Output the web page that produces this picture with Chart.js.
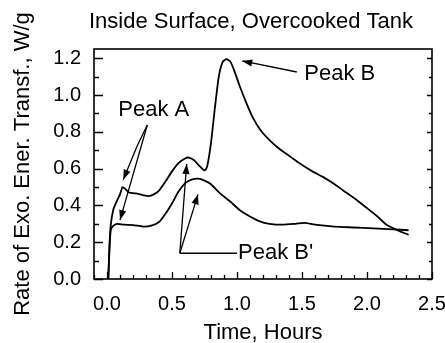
<!DOCTYPE html>
<html>
<head>
<meta charset="utf-8">
<script src="https://cdn.jsdelivr.net/npm/chart.js@4/dist/chart.umd.min.js"></script>
<style>
  html, body { margin: 0; padding: 0; background: #fff; }
  #wrap { width: 445px; height: 343px; }
</style>
</head>
<body>
<div id="wrap"><canvas id="c" width="445" height="343"></canvas></div>
<script>
// Upper trace: Peak A shoulder, Peak B' hump, then the large Peak B exotherm
const upperTime = [0.01, 0.02, 0.03, 0.05, 0.08, 0.10, 0.12, 0.14, 0.17, 0.22, 0.28, 0.32, 0.36, 0.40, 0.45, 0.50, 0.55, 0.60, 0.63, 0.67, 0.71, 0.75, 0.77, 0.80, 0.83, 0.86, 0.89, 0.92, 0.95, 0.98, 1.02, 1.07, 1.12, 1.18, 1.25, 1.33, 1.41, 1.49, 1.58, 1.66, 1.74, 1.82, 1.90, 2.00, 2.08, 2.15, 2.22, 2.32];
const upperRate = [0.00, 0.20, 0.30, 0.38, 0.43, 0.46, 0.50, 0.49, 0.47, 0.465, 0.455, 0.45, 0.46, 0.48, 0.53, 0.585, 0.63, 0.655, 0.66, 0.645, 0.615, 0.59, 0.61, 0.74, 0.93, 1.10, 1.18, 1.195, 1.18, 1.13, 1.05, 0.96, 0.88, 0.81, 0.755, 0.705, 0.665, 0.625, 0.585, 0.555, 0.52, 0.48, 0.44, 0.385, 0.34, 0.295, 0.27, 0.24];

// Lower trace: Peak A plateau and the single Peak B' maximum
const lowerTime = [0.01, 0.02, 0.03, 0.05, 0.08, 0.13, 0.20, 0.28, 0.34, 0.40, 0.45, 0.50, 0.55, 0.60, 0.65, 0.70, 0.75, 0.80, 0.87, 0.95, 1.02, 1.10, 1.17, 1.25, 1.35, 1.45, 1.52, 1.60, 1.75, 1.90, 2.05, 2.20, 2.32];
const lowerRate = [0.00, 0.18, 0.27, 0.29, 0.30, 0.295, 0.293, 0.285, 0.29, 0.31, 0.355, 0.41, 0.475, 0.52, 0.54, 0.545, 0.535, 0.515, 0.465, 0.42, 0.375, 0.34, 0.315, 0.30, 0.295, 0.30, 0.305, 0.295, 0.285, 0.28, 0.275, 0.27, 0.265];

// Axis tick values
const xTickValues = [0.0, 0.5, 1.0, 1.5, 2.0, 2.5];
const yTickValues = [0.0, 0.2, 0.4, 0.6, 0.8, 1.0, 1.2];

// Text strings
const titleText = 'Inside Surface, Overcooked Tank';
const xTitleText = 'Time, Hours';
const yTitleText = 'Rate of Exo. Ener. Transf., W/g';

// Callout labels (anchored in data units) and their leader lines
const calloutLabels = [
  { text: 'Peak A',  at: [0.36, 0.918], align: 'center' },
  { text: 'Peak B',  at: [1.51, 1.114], align: 'left' },
  { text: "Peak B'", at: [1.00, 0.14],  align: 'left' }
];
const calloutArrows = [
  { path: [[0.31, 0.837], [0.23, 0.72], [0.125, 0.54]], head: true },
  { path: [[0.31, 0.837], [0.10, 0.32]], head: true },
  { path: [[1.46, 1.125], [1.04, 1.185]], head: true },
  { path: [[1.00, 0.14], [0.56, 0.14]], head: false },
  { path: [[0.56, 0.14], [0.613, 0.625]], head: true },
  { path: [[0.56, 0.14], [0.70, 0.46]], head: true }
];

const FONT = '"Liberation Sans", Arial, Helvetica, sans-serif';
const TEXT_SIZE = 22;
const TICK_SIZE = 20;
const toPts = (xs, ys) => xs.map((x, i) => ({ x: x, y: ys[i] }));

// Inside tick marks, plot frame, title and callouts
const decorations = {
  id: 'decorations',
  afterDatasetsDraw(chart) {
    const { ctx, chartArea: a, scales: { x, y } } = chart;
    ctx.save();
    ctx.strokeStyle = '#000';
    ctx.fillStyle = '#000';
    ctx.lineWidth = 1.3;

    // minor/major ticks along the bottom
    for (let i = -1; i <= 25; i++) {
      const v = i / 10;
      const px = Math.round(x.getPixelForValue(v)) + 0.5;
      const len = (i % 5 === 0) ? 7 : 4;
      ctx.beginPath();
      ctx.moveTo(px, a.bottom);
      ctx.lineTo(px, a.bottom - len);
      ctx.stroke();
    }
    // minor/major ticks on left and right
    for (let i = 0; i <= 12; i++) {
      const v = i / 10;
      const py = Math.round(y.getPixelForValue(v)) + 0.5;
      const len = (i % 2 === 0) ? 9 : 5;
      ctx.beginPath();
      ctx.moveTo(a.left, py);
      ctx.lineTo(a.left + len, py);
      ctx.moveTo(a.right, py);
      ctx.lineTo(a.right - (i % 2 === 0 ? 5 : 3), py);
      ctx.stroke();
    }

    // frame
    ctx.lineWidth = 1.6;
    ctx.strokeRect(a.left, a.top, a.right - a.left, a.bottom - a.top);

    // callout leaders
    ctx.lineWidth = 1.3;
    calloutArrows.forEach(arw => {
      const pts = arw.path.map(p => [x.getPixelForValue(p[0]), y.getPixelForValue(p[1])]);
      ctx.beginPath();
      ctx.moveTo(pts[0][0], pts[0][1]);
      for (let k = 1; k < pts.length; k++) ctx.lineTo(pts[k][0], pts[k][1]);
      ctx.stroke();
      if (arw.head) {
        const [x1, y1] = pts[pts.length - 2];
        const [x2, y2] = pts[pts.length - 1];
        const ang = Math.atan2(y2 - y1, x2 - x1);
        const L = 10, W = 3.6;
        ctx.beginPath();
        ctx.moveTo(x2, y2);
        ctx.lineTo(x2 - L * Math.cos(ang) + W * Math.sin(ang), y2 - L * Math.sin(ang) - W * Math.cos(ang));
        ctx.lineTo(x2 - L * Math.cos(ang) - W * Math.sin(ang), y2 - L * Math.sin(ang) + W * Math.cos(ang));
        ctx.closePath();
        ctx.fill();
      }
    });

    // callout text
    ctx.font = TEXT_SIZE + 'px ' + FONT;
    ctx.textBaseline = 'middle';
    calloutLabels.forEach(l => {
      ctx.textAlign = l.align;
      const px = x.getPixelForValue(l.at[0]) + (l.align === 'left' ? 1 : 0);
      ctx.fillText(l.text, px, y.getPixelForValue(l.at[1]));
    });

    // chart title
    ctx.textAlign = 'center';
    ctx.fillText(titleText, 251, 22);
    ctx.restore();
  }
};

new Chart(document.getElementById('c'), {
  type: 'line',
  data: {
    datasets: [
      { data: toPts(upperTime, upperRate), borderColor: '#000', borderWidth: 1.8, pointRadius: 0, tension: 0.2, fill: false },
      { data: toPts(lowerTime, lowerRate), borderColor: '#000', borderWidth: 1.8, pointRadius: 0, tension: 0.2, fill: false }
    ]
  },
  options: {
    responsive: false,
    animation: false,
    layout: { padding: { left: 0, right: 13, top: 49, bottom: 0 } },
    plugins: { legend: { display: false }, tooltip: { enabled: false }, title: { display: false } },
    scales: {
      x: {
        type: 'linear', min: -0.1, max: 2.5,
        afterBuildTicks: s => { s.ticks = xTickValues.map(v => ({ value: v })); },
        afterFit: s => { s.height = 64; s.paddingLeft = 0; s.paddingRight = 0; },
        grid: { display: false, drawTicks: false },
        border: { display: false },
        ticks: { color: '#000', padding: 13, maxRotation: 0, autoSkip: false,
                 font: { family: FONT, size: TICK_SIZE }, callback: v => Number(v).toFixed(1) },
        title: { display: true, text: xTitleText, color: '#000', padding: { top: 0, bottom: -3 },
                 font: { family: FONT, size: TEXT_SIZE } }
      },
      y: {
        type: 'linear', min: 0, max: 1.25,
        afterBuildTicks: s => { s.ticks = yTickValues.map(v => ({ value: v })); },
        afterFit: s => { s.width = 94; s.paddingTop = 0; s.paddingBottom = 0; },
        grid: { display: false, drawTicks: false },
        border: { display: false },
        ticks: { color: '#000', padding: 13, font: { family: FONT, size: TICK_SIZE },
                 callback: v => Number(v).toFixed(1) },
        title: { display: true, text: yTitleText, color: '#000', padding: { top: 10, bottom: 0 },
                 font: { family: FONT, size: TEXT_SIZE } }
      }
    }
  },
  plugins: [decorations]
});
</script>
</body>
</html>
